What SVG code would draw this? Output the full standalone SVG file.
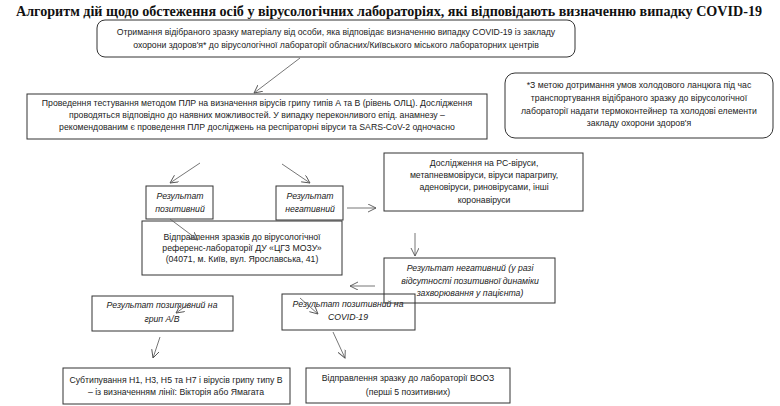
<svg xmlns="http://www.w3.org/2000/svg" width="780" height="406" viewBox="0 0 780 406">
<defs>
<marker id="ah" markerUnits="userSpaceOnUse" markerWidth="10" markerHeight="10" refX="8" refY="4" orient="auto">
<path d="M0,0 L8,4 L0,8" fill="none" stroke="#555" stroke-width="0.9"/>
</marker>
<style>
.box{fill:#fff;stroke:#333;stroke-width:1}
.t{font-family:"Liberation Sans",Arial,sans-serif;font-size:8.7px;fill:#222;text-anchor:middle}
.i{font-style:italic}
.c line{stroke:#666;stroke-width:0.9;marker-end:url(#ah)}
.title{font-family:"Liberation Serif","Times New Roman",serif;font-weight:bold;font-size:14px;fill:#111}
</style>
</defs>
<rect width="780" height="406" fill="#fff"/>
<text class="title" x="16" y="16" textLength="746" lengthAdjust="spacingAndGlyphs">Алгоритм дій щодо обстеження осіб у вірусологічних лабораторіях, які відповідають визначенню випадку COVID-19</text>

<g id="n-receive">
<rect class="box" x="97" y="20" width="478" height="37" rx="8"/>
<text class="t" x="336" y="35">Отримання відібраного зразку матеріалу від особи, яка відповідає визначенню випадку COVID-19  із закладу</text>
<text class="t" x="336" y="48">охорони здоров'я* до вірусологічної лабораторії обласних/Київського міського лабораторних центрів</text>
</g>

<g id="n-note">
<rect class="box" x="505" y="73" width="268" height="65" rx="10"/>
<text class="t" x="639" y="88">*З метою дотримання умов холодового ланцюга під час</text>
<text class="t" x="639" y="101">транспортування відібраного зразку до вірусологічної</text>
<text class="t" x="639" y="114">лабораторії надати термоконтейнер та холодові елементи</text>
<text class="t" x="639" y="126">закладу охорони здоров'я</text>
</g>

<g id="n-plr">
<rect class="box" x="27" y="94" width="460" height="45"/>
<text class="t" x="257" y="106">Проведення  тестування методом ПЛР на визначення вірусів грипу типів А та В (рівень ОЛЦ). Дослідження</text>
<text class="t" x="257" y="118">проводяться відповідно до наявних можливостей. У випадку переконливого епід. анамнезу –</text>
<text class="t" x="257" y="130">рекомендованим є проведення ПЛР досліджень на респіраторні віруси та SARS-CoV-2 одночасно</text>
</g>

<g id="n-pos">
<rect class="box" x="146" y="186" width="67" height="33"/>
<text class="t i" x="180" y="199">Результат</text>
<text class="t i" x="180" y="212">позитивний</text>
</g>

<g id="n-neg">
<rect class="box" x="276" y="186" width="67" height="34"/>
<text class="t i" x="310" y="199">Результат</text>
<text class="t i" x="310" y="212">негативний</text>
</g>

<g id="n-rs">
<rect class="box" x="384" y="153" width="199" height="58"/>
<text class="t" x="484" y="166">Дослідження на РС-віруси,</text>
<text class="t" x="484" y="178">метапневмовіруси,  віруси парагрипу,</text>
<text class="t" x="484" y="190">аденовіруси, риновірусами, інші</text>
<text class="t" x="484" y="203">коронавіруси</text>
</g>

<g id="n-ref">
<rect class="box" x="142" y="221" width="200" height="54"/>
<text class="t" x="242" y="240">Відправлення зразків до вірусологічної</text>
<text class="t" x="242" y="251">референс-лабораторії ДУ «ЦГЗ МОЗУ»</text>
<text class="t" x="242" y="262">(04071, м. Київ, вул. Ярославська, 41)</text>
</g>

<g id="n-neg2">
<rect class="box" x="384" y="258" width="171" height="45"/>
<text class="t i" x="470" y="271">Результат негативний  (у разі</text>
<text class="t i" x="470" y="284">відсутності позитивної динаміки</text>
<text class="t i" x="470" y="296">захворювання у пацієнта)</text>
</g>

<g id="n-flu">
<rect class="box" x="92" y="296" width="141" height="35"/>
<text class="t i" x="162" y="308">Результат позитивний на</text>
<text class="t i" x="162" y="322">грип А/В</text>
</g>

<g id="n-covid">
<rect class="box" x="282" y="294" width="133" height="36" style="fill:none"/>
<text class="t i" x="348" y="307">Результат позитивний на</text>
<text class="t i" x="348" y="320">COVID-19</text>
</g>

<g id="n-subtype">
<rect class="box" x="63" y="368" width="227" height="36"/>
<text class="t" x="176" y="383">Субтипування Н1, Н3, Н5 та Н7 і вірусів грипу типу В</text>
<text class="t" x="176" y="395">– із визначенням лінії:  Вікторія або Ямагата</text>
</g>

<g id="n-who">
<rect class="box" x="306" y="368" width="204" height="35"/>
<text class="t" x="408" y="381">Відправлення зразку до лабораторії ВООЗ</text>
<text class="t" x="408" y="395">(перші 5 позитивних)</text>
</g>

<g id="connectors" class="c">
<line x1="300" y1="58" x2="254" y2="93"/>
<line x1="200" y1="163" x2="170" y2="183"/>
<line x1="282" y1="164" x2="310" y2="183"/>
<line x1="347" y1="208" x2="376" y2="208"/>
<line x1="170" y1="219" x2="198" y2="240"/>
<line x1="415" y1="233" x2="415" y2="256"/>
<line x1="375" y1="286" x2="350" y2="286"/>
<line x1="190" y1="303" x2="176" y2="313"/>
<line x1="300" y1="298" x2="318" y2="314"/>
<line x1="160" y1="337" x2="153" y2="358"/>
<line x1="333" y1="332" x2="345" y2="358"/>
</g>
</svg>
